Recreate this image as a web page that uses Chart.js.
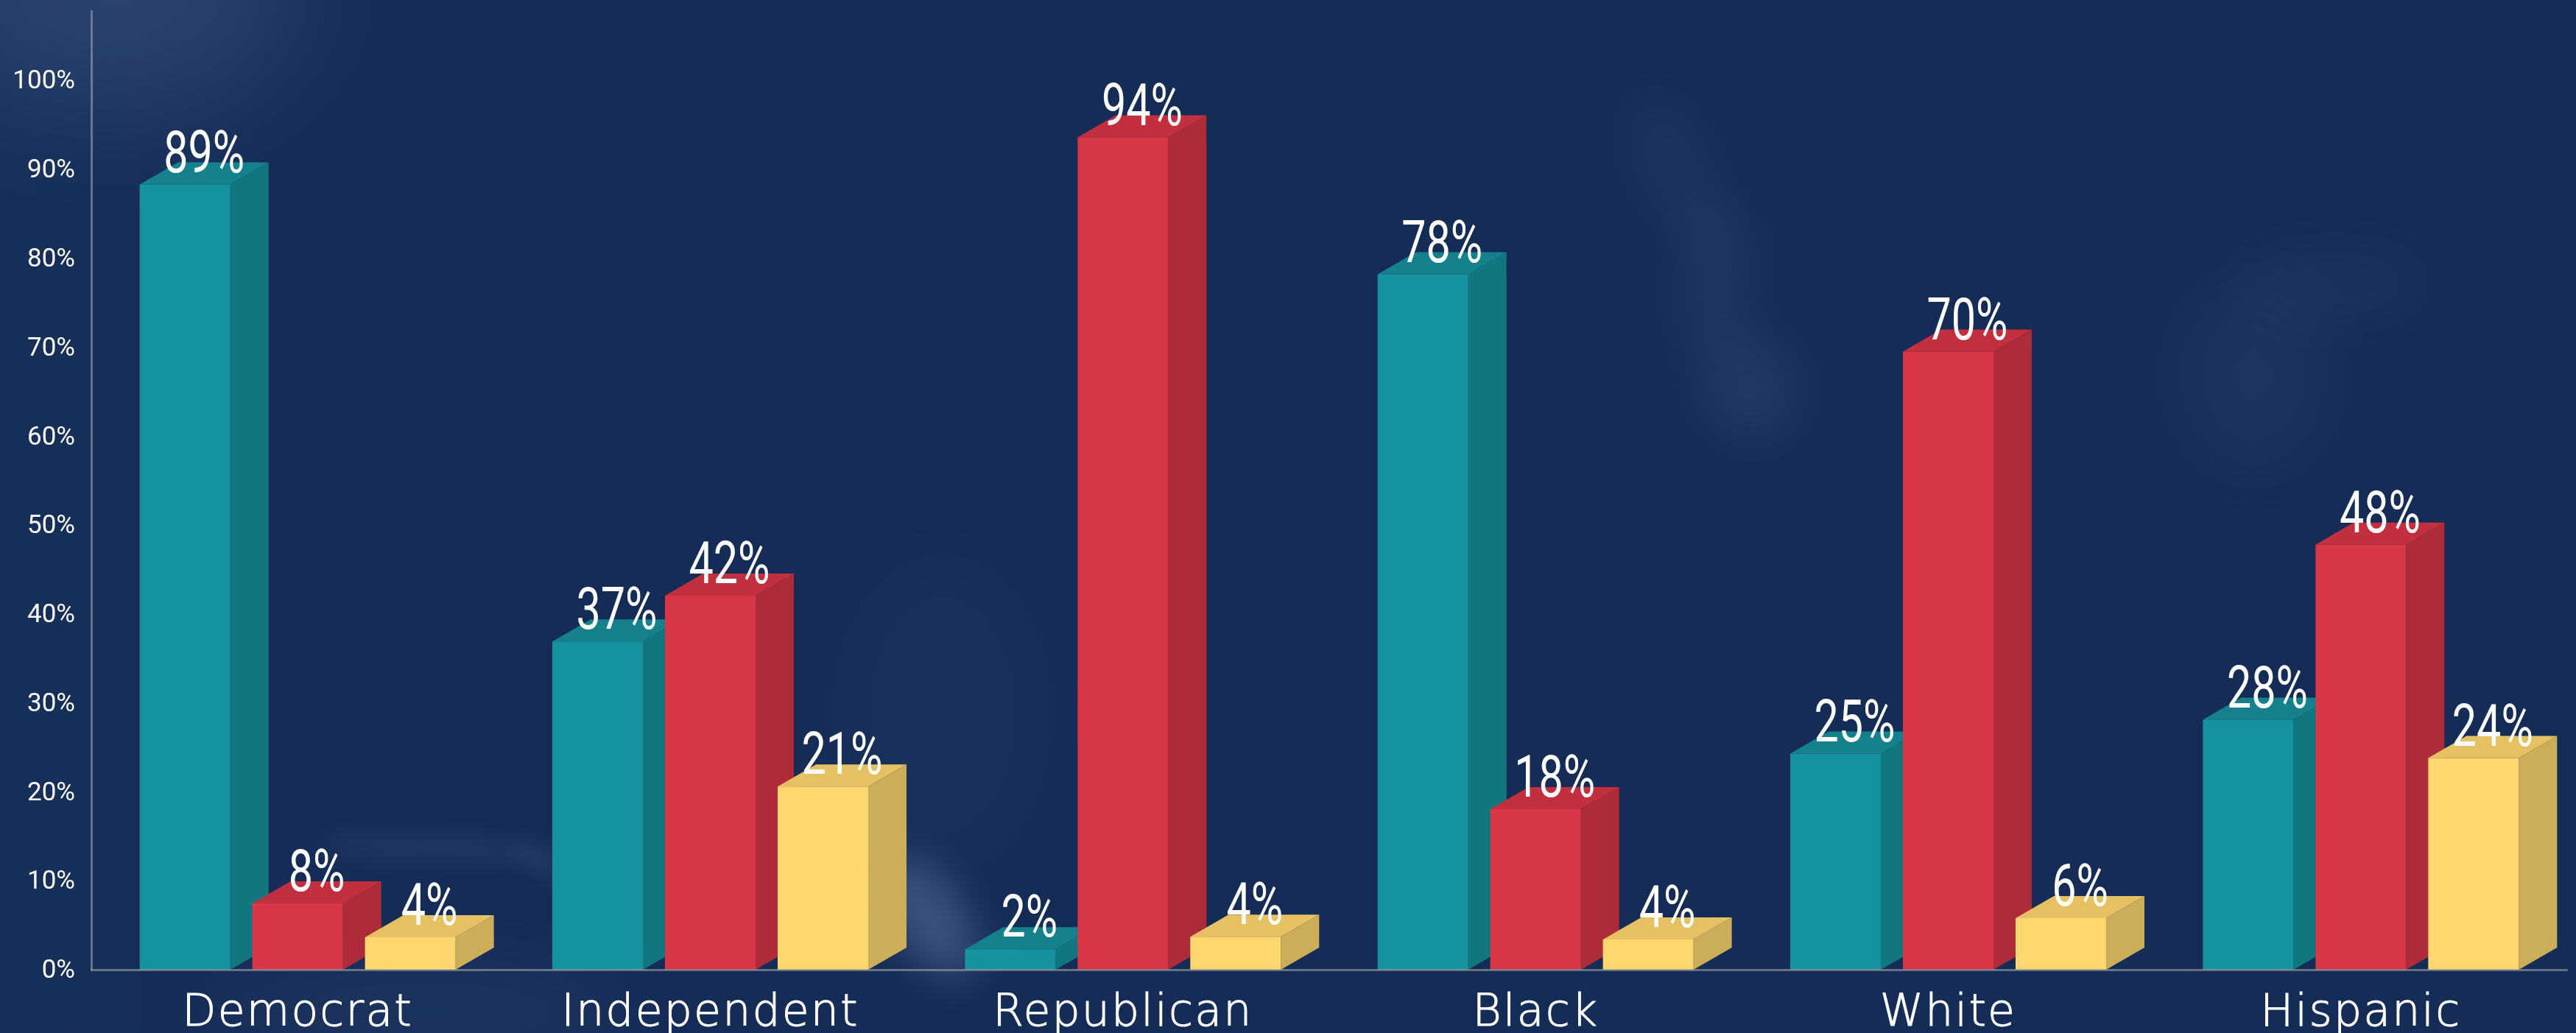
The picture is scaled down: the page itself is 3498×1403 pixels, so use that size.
<!DOCTYPE html>
<html>
<head>
<meta charset="utf-8">
<style>
html,body{margin:0;padding:0;width:3498px;height:1403px;overflow:hidden;background:#142c56;}
#bg{position:absolute;left:0;top:0;width:3498px;height:1403px;overflow:hidden;background:
 linear-gradient(90deg, rgba(40,70,110,.14), rgba(40,70,110,0) 420px),
 #142c56;}
.w{position:absolute;border-radius:50%;background:#7f97c4;}
canvas{position:absolute;left:0;top:0;}
</style>
</head>
<body>
<div id="bg">
 <div class="w" style="left:-100px;top:-170px;width:520px;height:320px;opacity:.20;filter:blur(85px)"></div>
 <div class="w" style="left:1215px;top:1150px;width:90px;height:190px;opacity:.38;transform:rotate(-35deg);filter:blur(28px)"></div>
 <div class="w" style="left:1150px;top:760px;width:260px;height:420px;opacity:.05;filter:blur(60px)"></div>
 <div class="w" style="left:430px;top:1135px;width:320px;height:36px;opacity:.11;transform:rotate(2deg);filter:blur(16px)"></div>
 <div class="w" style="left:690px;top:1165px;width:130px;height:30px;opacity:.11;transform:rotate(25deg);filter:blur(14px)"></div>
 <div class="w" style="left:300px;top:1300px;width:560px;height:150px;opacity:.07;filter:blur(50px)"></div>
 <div class="w" style="left:2230px;top:120px;width:90px;height:220px;opacity:.09;transform:rotate(-25deg);filter:blur(36px)"></div>
 <div class="w" style="left:2280px;top:280px;width:100px;height:200px;opacity:.10;transform:rotate(8deg);filter:blur(36px)"></div>
 <div class="w" style="left:2310px;top:450px;width:130px;height:150px;opacity:.13;transform:rotate(-30deg);filter:blur(36px)"></div>
 <div class="w" style="left:2960px;top:380px;width:200px;height:260px;opacity:.08;filter:blur(50px)"></div>
 <div class="w" style="left:3040px;top:340px;width:260px;height:90px;opacity:.07;filter:blur(40px)"></div>
</div>
<canvas id="c" width="3498" height="1403"></canvas>
<script src="https://cdn.jsdelivr.net/npm/chart.js@4/dist/chart.umd.min.js"></script>
<script>
const categories = ["Democrat","Independent","Republican","Black","White","Hispanic"];
const tealValues   = [88.3, 36.9, 2.3, 78.2, 24.3, 28.1];
const redValues    = [7.45, 42.05, 93.6, 18.05, 69.5, 47.8];
const yellowValues = [3.64, 20.6, 3.7, 3.4, 5.8, 23.8];
const tealLabels   = ["89%","37%","2%","78%","25%","28%"];
const redLabels    = ["8%","42%","94%","18%","70%","48%"];
const yellowLabels = ["4%","21%","4%","4%","6%","24%"];
const yTickStep = 10;
const yTop = 107.8;

const faces = [
  {front:"#16939f", side:"#12767f", top:"#15818c", labels:tealLabels},
  {front:"#d83748", side:"#ae2b39", top:"#c2303f", labels:redLabels},
  {front:"#ffd76e", side:"#ccae5a", top:"#e5c163", labels:yellowLabels}
];
const DX = 52, DY = 30;

const box3d = {
  id:"box3d",
  beforeDatasetsDraw(chart){
    const ctx = chart.ctx;
    faces.forEach((f,d)=>{
      chart.getDatasetMeta(d).data.forEach(b=>{
        const l=b.x-b.width/2, r=b.x+b.width/2, t=b.y, bt=b.base;
        ctx.fillStyle=f.side;
        ctx.beginPath();
        ctx.moveTo(r,bt);ctx.lineTo(r+DX,bt-DY);ctx.lineTo(r+DX,t-DY);ctx.lineTo(r,t);
        ctx.closePath();ctx.fill();
        ctx.fillStyle=f.top;
        ctx.beginPath();
        ctx.moveTo(l,t);ctx.lineTo(l+DX,t-DY);ctx.lineTo(r+DX,t-DY);ctx.lineTo(r,t);
        ctx.closePath();ctx.fill();
      });
    });
  },
  afterDatasetsDraw(chart){
    chart.ctx.letterSpacing="2.2px";
  },
  afterDraw(chart){
    const ctx = chart.ctx;
    ctx.letterSpacing="0px";
    faces.forEach((f,d)=>{
      chart.getDatasetMeta(d).data.forEach((b,i)=>{
        ctx.save();
        ctx.translate(b.x+DX/2, b.y-17);
        ctx.scale(0.74,1);
        ctx.font='400 80px Roboto';
        ctx.fillStyle="#ffffff";
        ctx.textAlign="center";
        ctx.textBaseline="alphabetic";
        ctx.fillText(f.labels[i],0,0);
        ctx.restore();
      });
    });
  }
};

const axisLine = "rgba(172,172,172,0.55)";

new Chart(document.getElementById("c"),{
  type:"bar",
  data:{
    labels:categories,
    datasets:[
      {label:"Teal",data:tealValues,backgroundColor:faces[0].front},
      {label:"Red",data:redValues,backgroundColor:faces[1].front},
      {label:"Yellow",data:yellowValues,backgroundColor:faces[2].front}
    ]
  },
  plugins:[box3d],
  options:{
    responsive:false,
    animation:false,
    layout:{padding:{left:0,right:12,top:15,bottom:0}},
    plugins:{legend:{display:false},tooltip:{enabled:false},title:{display:false}},
    datasets:{bar:{categoryPercentage:0.819,barPercentage:0.804,borderWidth:0}},
    scales:{
      x:{
        grid:{display:false},
        border:{display:true,color:axisLine,width:3,z:1},
        afterFit(s){s.height=86;s.paddingLeft=0;s.paddingRight=0;},
        ticks:{color:"#ffffff",padding:16,z:1,maxRotation:0,autoSkip:false,
          textStrokeColor:"#ffffff",textStrokeWidth:1,
          font:{family:"DejaVu Sans",size:60,weight:"200"}}
      },
      y:{
        min:0,max:yTop,
        grid:{display:false},
        border:{display:true,color:axisLine,width:3,z:1},
        afterFit(s){s.width=124;s.paddingTop=0;s.paddingBottom=0;},
        ticks:{color:"#ffffff",stepSize:yTickStep,includeBounds:false,padding:14,labelOffset:2.5,
          callback:v=>v+"%",
          font:{family:"Roboto",size:35,weight:"400"}}
      }
    }
  }
});
</script>
</body>
</html>
